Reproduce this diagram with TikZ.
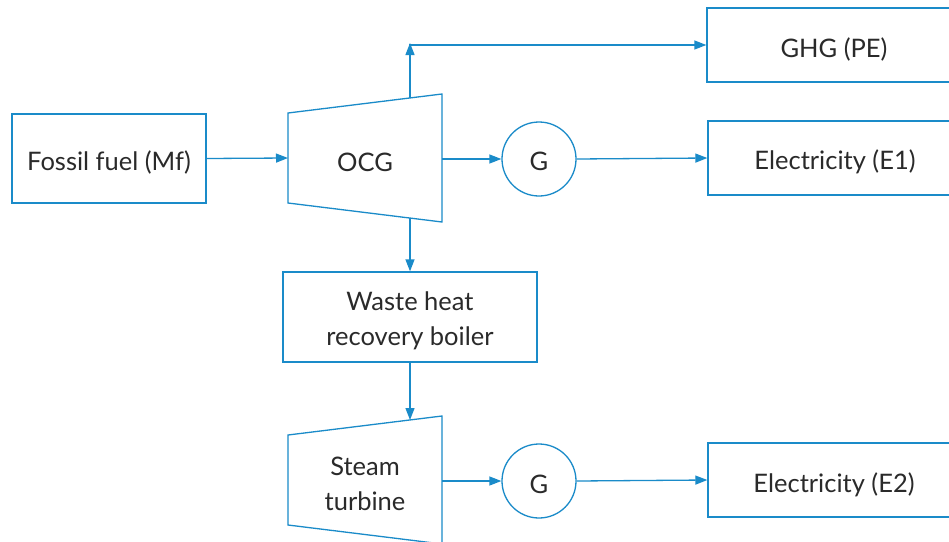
\documentclass[tikz,border=0pt]{standalone}
\usepackage{fontspec}
\setmainfont{Lato}
\usetikzlibrary{arrows.meta}
\definecolor{lineblue}{HTML}{1A8BC9}
\definecolor{txt}{HTML}{2A2A2A}
\tikzset{
  flow/.style={draw=lineblue, line width=1.3pt, -{Triangle[length=12pt,width=9pt]}},
  plain/.style={draw=lineblue, line width=1.3pt},
  boxnode/.style={draw=lineblue, line width=1.3pt, rectangle, inner sep=0pt},
  gen/.style={draw=lineblue, line width=1.3pt, circle, minimum size=74pt, inner sep=0pt},
  lbl/.style={text=txt, font=\fontsize{25.5}{35}\selectfont, align=center, inner sep=0pt}
}
\begin{document}
\begin{tikzpicture}[x=1pt,y=-1pt]
\useasboundingbox (0,0) rectangle (949,541);
\fill[white] (0,0) rectangle (949,541);
% boxes
\node[boxnode, minimum width=194pt, minimum height=89pt] (fossil) at (109,158.5) {};
\node[boxnode, minimum width=254pt, minimum height=90pt] (whrb) at (410,317) {};
\node[boxnode, minimum width=260pt, minimum height=74pt] (ghg) at (837,45) {};
\node[boxnode, minimum width=260pt, minimum height=74pt] (e1) at (838,158) {};
\node[boxnode, minimum width=260pt, minimum height=74pt] (e2) at (838,480) {};
\node[lbl] (fossilT) at (109,162) {Fossil fuel (Mf)};
\node[lbl] (whrbT) at (410,321) {Waste heat\\recovery boiler};
\node[lbl] (ghgT) at (834,49) {GHG (PE)};
\node[lbl] (e1T) at (835,162) {Electricity (E1)};
\node[lbl] (e2T) at (834,485) {Electricity (E2)};
% generators
\node[gen] (g1) at (539,159) {};
\node[gen] (g2) at (539,481) {};
\node[lbl] (g1T) at (539,161) {G};
\node[lbl] (g2T) at (539,484) {G};
% OCG trapezoid
\draw[plain] (288,113) -- (442,94) -- (442,222) -- (288,203) -- cycle;
\node[lbl] (ocg) at (365,162) {OCG};
\coordinate (ocgL) at (288,158);
\coordinate (ocgR) at (442,159);
\coordinate (ocgT) at (410,98);
\coordinate (ocgB) at (410,218);
\coordinate (corner) at (410,45);
% Steam turbine trapezoid
\draw[plain] (288,435) -- (442,416) -- (442,544) -- (288,525) -- cycle;
\node[lbl] (steam) at (365,483.5) {Steam\\turbine};
\coordinate (stT) at (410,420);
\coordinate (stR) at (442,481);
% connectors
\draw[flow] (fossil.east) -- (ocgL);
\draw[flow] (ocgT) -- ([yshift=2pt]corner);
\draw[flow] (corner) -- (ghg.west);
\draw[flow] (ocgR) -- (g1.west);
\draw[flow] (g1.east) -- (e1.west);
\draw[flow] (ocgB) -- (whrb.north);
\draw[flow] (whrb.south) -- (stT);
\draw[flow] (stR) -- (g2.west);
\draw[flow] (g2.east) -- (e2.west);
\draw[plain] (410,45.65) -- (410,44.35);
\end{tikzpicture}
\end{document}
